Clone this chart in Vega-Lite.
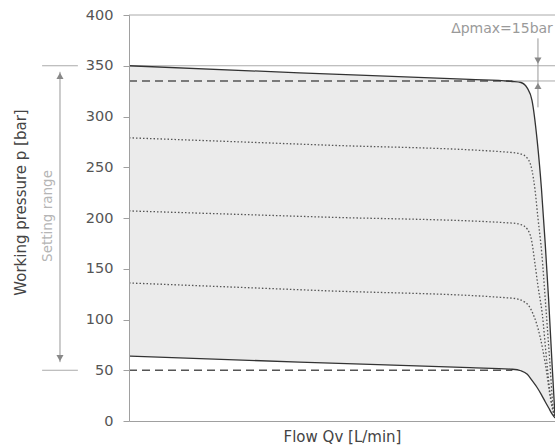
{
  "$schema": "https://vega.github.io/schema/vega-lite/v6.json",
  "width": 426,
  "height": 406,
  "autosize": {"type": "none"},
  "padding": {"left": 129, "top": 15, "right": 0, "bottom": 24},
  "background": "white",
  "config": {
    "view": {"stroke": null},
    "font": "DejaVu Sans",
    "axis": {"grid": false, "domainColor": "#a0a0a0", "tickColor": "#a0a0a0", "labelColor": "#555555", "titleColor": "#444444", "titleFontWeight": "normal"}
  },
  "datasets": {
    "band": [
      {"q": 0, "top": 350, "bottom": 64},
      {"q": 40, "top": 343, "bottom": 58},
      {"q": 80, "top": 336.5, "bottom": 52.5},
      {"q": 90, "top": 334.5, "bottom": 51},
      {"q": 92, "top": 333.5, "bottom": 49.5},
      {"q": 93.5, "top": 328, "bottom": 46},
      {"q": 94.6, "top": 316, "bottom": 40},
      {"q": 95.8, "top": 277, "bottom": 33},
      {"q": 96.8, "top": 230, "bottom": 26},
      {"q": 97.7, "top": 175, "bottom": 19},
      {"q": 98.5, "top": 120, "bottom": 13},
      {"q": 99.3, "top": 57, "bottom": 7},
      {"q": 100, "top": 5, "bottom": 3}
    ],
    "curves": [
      {"series": "p335", "q": 0, "p": 335},
      {"series": "p335", "q": 90, "p": 335},
      {"series": "p50", "q": 0, "p": 50},
      {"series": "p50", "q": 90, "p": 50},
      {"series": "p278", "q": 0, "p": 279},
      {"series": "p278", "q": 45, "p": 272},
      {"series": "p278", "q": 90, "p": 264.5},
      {"series": "p278", "q": 92, "p": 263},
      {"series": "p278", "q": 93.5, "p": 259},
      {"series": "p278", "q": 94.6, "p": 247},
      {"series": "p278", "q": 95.3, "p": 228},
      {"series": "p278", "q": 96, "p": 200},
      {"series": "p278", "q": 96.9, "p": 165},
      {"series": "p278", "q": 97.8, "p": 115},
      {"series": "p278", "q": 98.8, "p": 57},
      {"series": "p278", "q": 99.5, "p": 15},
      {"series": "p278", "q": 100, "p": 3},
      {"series": "p207", "q": 0, "p": 207},
      {"series": "p207", "q": 45, "p": 201},
      {"series": "p207", "q": 90, "p": 195},
      {"series": "p207", "q": 92, "p": 193.5},
      {"series": "p207", "q": 93.5, "p": 189},
      {"series": "p207", "q": 94.5, "p": 178},
      {"series": "p207", "q": 95.3, "p": 155},
      {"series": "p207", "q": 96, "p": 133},
      {"series": "p207", "q": 97, "p": 106},
      {"series": "p207", "q": 98.1, "p": 57},
      {"series": "p207", "q": 99, "p": 22},
      {"series": "p207", "q": 100, "p": 3},
      {"series": "p136", "q": 0, "p": 136},
      {"series": "p136", "q": 45, "p": 128.5},
      {"series": "p136", "q": 90, "p": 121},
      {"series": "p136", "q": 93, "p": 117},
      {"series": "p136", "q": 94.8, "p": 106},
      {"series": "p136", "q": 96.5, "p": 83},
      {"series": "p136", "q": 97.7, "p": 57},
      {"series": "p136", "q": 99, "p": 21},
      {"series": "p136", "q": 100, "p": 3}
    ],
    "hrules": [
      {"p": 400, "q": 0, "q2": 100},
      {"p": 350, "q": 0, "q2": 100},
      {"p": 335, "q": 88, "q2": 100},
      {"p": 350, "q": -20.4, "q2": -12},
      {"p": 50, "q": -20.4, "q2": -12}
    ],
    "vrules": [
      {"q": -16.2, "p": 344, "p2": 58},
      {"q": 96, "p": 377, "p2": 309}
    ],
    "arrows": [
      {"q": -16.2, "p": 340, "dir": "up"},
      {"q": -16.2, "p": 62, "dir": "down"},
      {"q": 96, "p": 355, "dir": "down"},
      {"q": 96, "p": 330, "dir": "up"}
    ],
    "labels": [
      {"q": -19, "p": 202, "text": "Setting range"}
    ],
    "delta": [
      {"q": 99.5, "p": 382, "text": "Δpmax=15bar"}
    ]
  },
  "encoding": {
    "x": {"field": "q", "type": "quantitative", "scale": {"domain": [0, 100], "nice": false, "zero": false},
      "axis": {"title": "Flow Qv [L/min]", "labels": false, "ticks": false, "titlePadding": 8, "titleFontSize": 15, "titleX": 213, "zindex": 1}},
    "y": {"field": "p", "type": "quantitative", "scale": {"domain": [0, 400], "nice": false},
      "axis": {"title": "Working pressure p [bar]", "values": [0, 50, 100, 150, 200, 250, 300, 350, 400], "tickSize": 6, "labelPadding": 10, "labelFontSize": 14.5, "titleFontSize": 15, "titleX": -109, "titleY": 187, "titleBaseline": "middle", "zindex": 1}}
  },
  "layer": [
    {
      "data": {"name": "band"},
      "mark": {"type": "area", "color": "#ebebeb", "interpolate": "monotone"},
      "encoding": {"y": {"field": "top", "type": "quantitative"}, "y2": {"field": "bottom"}}
    },
    {
      "data": {"name": "hrules"},
      "mark": {"type": "rule", "color": "#aaaaaa", "strokeWidth": 1},
      "encoding": {"x2": {"field": "q2"}}
    },
    {
      "data": {"name": "vrules"},
      "mark": {"type": "rule", "color": "#999999", "strokeWidth": 1},
      "encoding": {"y2": {"field": "p2"}}
    },
    {
      "data": {"name": "arrows"},
      "mark": {"type": "point", "filled": true, "color": "#888888", "size": 50, "opacity": 1},
      "encoding": {"shape": {"field": "dir", "type": "nominal", "scale": {"domain": ["up", "down"], "range": ["triangle-up", "triangle-down"]}, "legend": null}}
    },
    {
      "data": {"name": "curves"},
      "mark": {"type": "line", "color": "#555555", "strokeWidth": 1.3, "interpolate": "monotone"},
      "encoding": {"strokeDash": {"field": "series", "type": "nominal", "scale": {"domain": ["p335", "p50", "p278", "p207", "p136"], "range": [[8, 5], [8, 5], [1.5, 2], [1.5, 2], [1.5, 2]]}, "legend": null}}
    },
    {
      "data": {"name": "band"},
      "mark": {"type": "line", "color": "#333333", "strokeWidth": 1.3, "interpolate": "monotone"},
      "encoding": {"y": {"field": "top", "type": "quantitative"}}
    },
    {
      "data": {"name": "band"},
      "mark": {"type": "line", "color": "#333333", "strokeWidth": 1.3, "interpolate": "monotone"},
      "encoding": {"y": {"field": "bottom", "type": "quantitative"}}
    },
    {
      "data": {"name": "labels"},
      "mark": {"type": "text", "angle": 270, "color": "#b5b5b5", "fontSize": 13.5, "align": "center", "baseline": "middle"},
      "encoding": {"text": {"field": "text"}}
    },
    {
      "data": {"name": "delta"},
      "mark": {"type": "text", "color": "#9a9a9a", "fontSize": 14, "align": "right", "baseline": "alphabetic"},
      "encoding": {"text": {"field": "text"}}
    }
  ]
}
